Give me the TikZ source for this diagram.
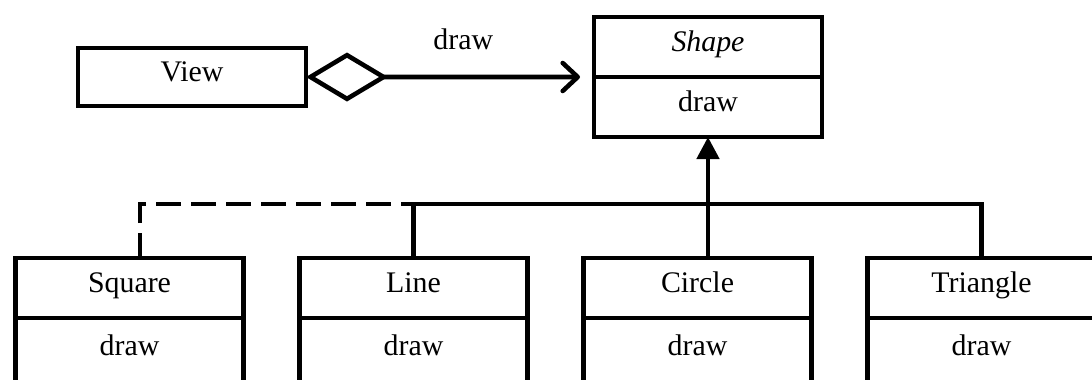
\documentclass[tikz,border=0pt]{standalone}
\usepackage{fontspec}
\setmainfont{Liberation Serif}
\usetikzlibrary{
    positioning,
    arrows.meta
}

\begin{document}
\begin{tikzpicture}[
      cls/.style={draw, line width=2.6pt, outer sep=0pt, minimum width=4.56cm, minimum height=1.2cm, inner sep=0pt, text height=0.76em, text depth=0.22em, font=\fontsize{17}{20}\selectfont},
      ops/.style={cls},
      cut/.style={ops, minimum height=1.32cm},
      link/.style={line width=2.6pt},
      lbl/.style={font=\fontsize{17}{20}\selectfont, inner sep=0pt}
    ]
    \useasboundingbox (0,0) rectangle (21.84,7.58);
    \clip (0,0) rectangle (21.84,7.58);

    \node[cls, minimum height=1.16cm] (view) at (3.84,6.04) {View};
    \node[cls] (shape) at (14.16,6.64) {\textit{Shape}};
    \node[ops, below=0pt of shape] (shape-ops) {draw};

    \node[cls] (square) at (2.59,1.82) {Square};
    \node[cls, right=1.12cm of square] (line) {Line};
    \node[cls, right=1.12cm of line] (circle) {Circle};
    \node[cls, right=1.12cm of circle] (triangle) {Triangle};
    \node[cut, below=0pt of square] (square-ops) {draw};
    \node[cut, below=0pt of line] (line-ops) {draw};
    \node[cut, below=0pt of circle] (circle-ops) {draw};
    \node[cut, below=0pt of triangle] (triangle-ops) {draw};

    \coordinate (bus) at (0,3.5);

    \draw[link, {Diamond[open, length=1.64cm, width=0.98cm]}-{Straight Barb[round, length=0.3cm, width=0.56cm]}, shorten >=0.28cm]
      (view.east) -- node[lbl, above=0.5cm, pos=0.546] (call) {draw} (shape.south west);
    \draw[link, -{Triangle[length=0.44cm, width=0.44cm]}] (shape-ops.south |- circle.north) -- (shape-ops.south);
    \draw[link] (line.north) |- (triangle.north |- bus) -- (triangle.north);
    \draw[link, dash pattern=on 0.5cm off 0.2cm] ([xshift=0.21cm]square.north) |- (line.north |- bus);
  \end{tikzpicture}
\end{document}
